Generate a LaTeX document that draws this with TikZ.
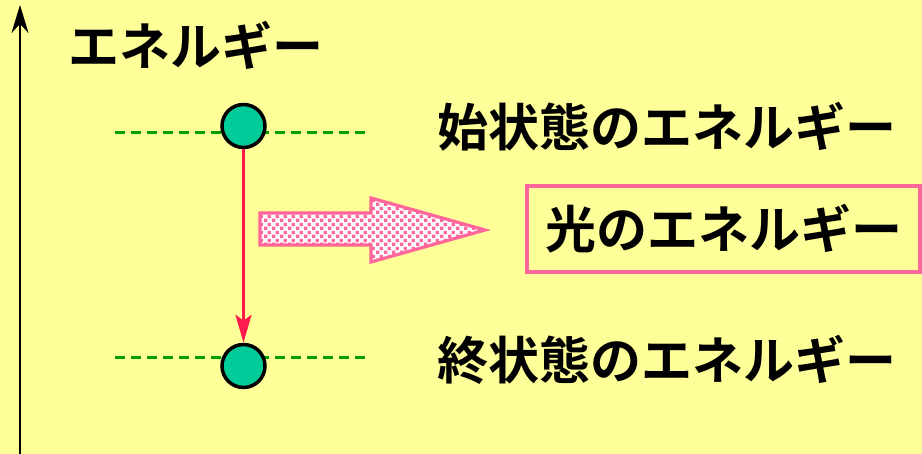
\documentclass[tikz,border=0pt]{standalone}
\usepackage{fontspec}
\setmainfont{Noto Sans CJK JP}[BoldFont={* Bold}]
\newfontfamily\jpfont{Noto Sans CJK JP Bold}
\usetikzlibrary{arrows.meta,patterns}
\definecolor{bgyellow}{HTML}{FFFF99}
\definecolor{ballgreen}{HTML}{00CC99}
\definecolor{dashgreen}{HTML}{00A000}
\definecolor{pinkline}{HTML}{FF6699}
\definecolor{redarrow}{HTML}{FF1A4D}
\pgfdeclarepatternformonly{pinkdots}{\pgfpointorigin}{\pgfpoint{8pt}{8pt}}{\pgfpoint{8pt}{8pt}}{%
  \pgfpathrectangle{\pgfpoint{0.2pt}{0.2pt}}{\pgfpoint{3.6pt}{3.6pt}}%
  \pgfpathrectangle{\pgfpoint{4.2pt}{4.2pt}}{\pgfpoint{3.6pt}{3.6pt}}%
  \pgfusepath{fill}}
\begin{document}
\begin{tikzpicture}[x=1pt,y=-1pt,
  lbl/.style={font=\jpfont\fontsize{51}{53}\selectfont, inner sep=0pt},
  level/.style={dashgreen, line width=3pt, dash pattern=on 10pt off 6pt},
  ball/.style={circle, draw=black, line width=3.5pt, fill=ballgreen, minimum size=43pt, inner sep=0pt}]
\fill[bgyellow] (0,0) rectangle (922,454);
\useasboundingbox (0,0) rectangle (922,454);
% axis
\coordinate (ax0) at (20,454);
\coordinate (ax1) at (20,5);
\draw[line width=2.8pt,-{Stealth[length=28pt,width=17pt]}] (ax0) -- (ax1);
\node[lbl, anchor=west] (ylabel) at (68,45) {エネルギー};
% levels
\coordinate (l1a) at (115,133); \coordinate (l1b) at (370,133);
\coordinate (l2a) at (115,358); \coordinate (l2b) at (370,358);
\draw[level] (l1a) -- (l1b);
\draw[level] (l2a) -- (l2b);
\node[ball] (top) at (243.5,126) {};
\node[ball] (bot) at (243.5,366) {};
\draw[redarrow, line width=3pt, -{Stealth[length=28pt,width=16pt,inset=6pt]}] (top.south) -- (bot.north);
% light arrow
\path[fill=white] (260,213) -- (371,213) -- (371,198) -- (485,230) -- (371,262) -- (371,245) -- (260,245) -- cycle;
\path[pattern=pinkdots, pattern color=pinkline] (260,213) -- (371,213) -- (371,198) -- (485,230) -- (371,262) -- (371,245) -- (260,245) -- cycle;
\draw[pinkline, line width=3.2pt, line join=miter] (260,213) -- (371,213) -- (371,198) -- (485,230) -- (371,262) -- (371,245) -- (260,245) -- cycle;
% labels
\node[lbl, anchor=west] (init) at (437,127) {始状態のエネルギー};
\node[lbl, anchor=west] (fin) at (437,360) {終状態のエネルギー};
\node[draw=pinkline, line width=3.2pt, minimum width=393pt, minimum height=86pt, inner sep=0pt] (box) at (723.5,229) {};
\node[lbl] (light) at (box.center) {光のエネルギー};
\end{tikzpicture}
\end{document}
